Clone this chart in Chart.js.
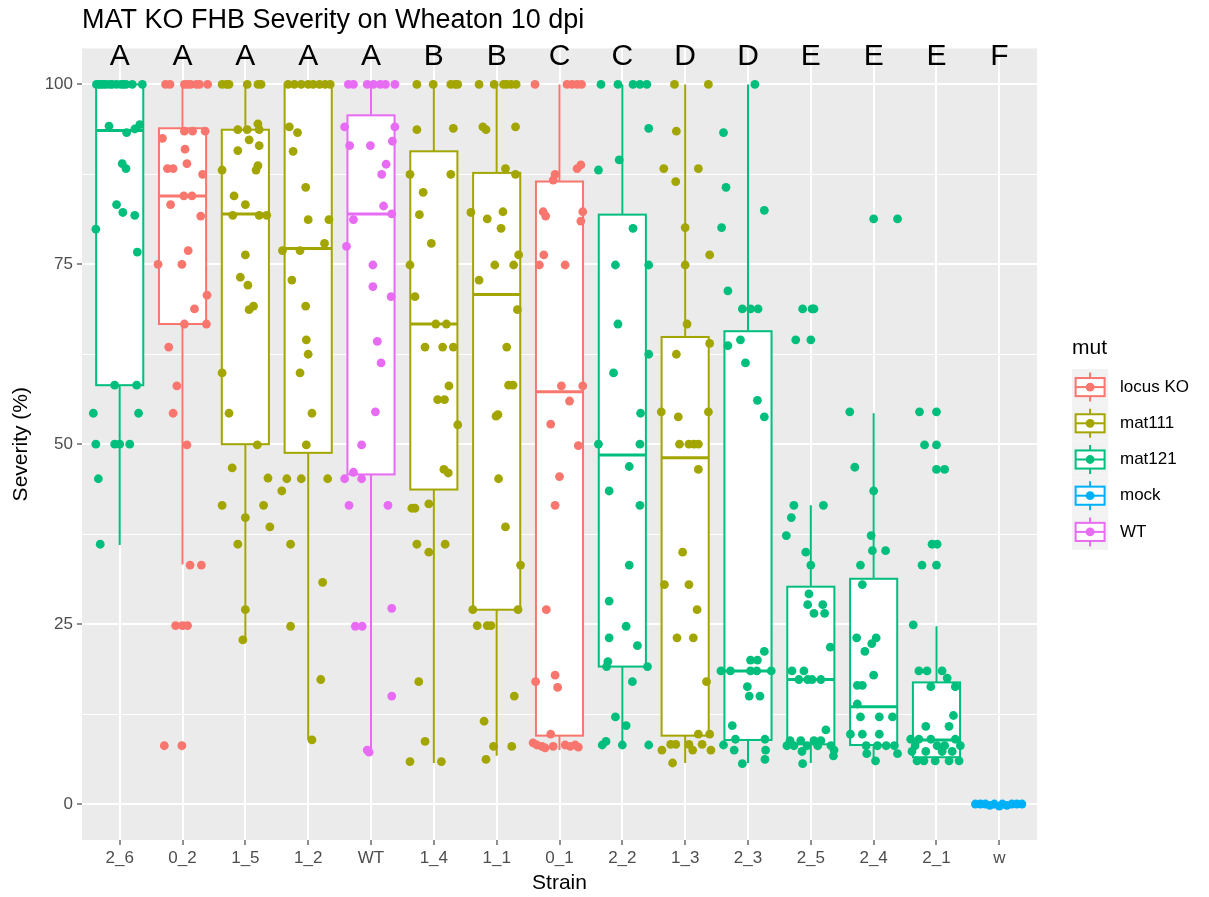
<!DOCTYPE html>
<html>
<head>
<meta charset="utf-8">
<script src="https://cdn.jsdelivr.net/npm/chart.js@4.4.1/dist/chart.umd.min.js"></script>
<style>
  html, body { margin: 0; padding: 0; background: #ffffff; }
  #wrap { width: 1209px; height: 897px; }
</style>
</head>
<body>
<div id="wrap"><canvas id="chart" width="1209" height="897"></canvas></div>
<script>
// ---- data ----
const strains = ['2_6', '0_2', '1_5', '1_2', 'WT', '1_4', '1_1', '0_1', '2_2', '1_3', '2_3', '2_5', '2_4', '2_1', 'w'];
const groups  = ['mat121', 'locus KO', 'mat111', 'mat111', 'WT', 'mat111', 'mat111', 'locus KO',
                 'mat121', 'mat111', 'mat121', 'mat121', 'mat121', 'mat121', 'mock'];
const letters = ['A', 'A', 'A', 'A', 'A', 'B', 'B', 'C', 'C', 'D', 'D', 'E', 'E', 'E', 'F'];

// box statistics per strain
const whiskerHigh = [100, 100, 100, 100, 100, 100, 100, 100, 100, 100, 100, 41.5, 54.3, 24.7, 0];
const q3          = [100, 93.9, 93.7, 100, 95.7, 90.7, 87.7, 86.5, 81.9, 64.9, 65.7, 30.2, 31.3, 16.9, 0];
const medians     = [93.6, 84.5, 82, 77.2, 82, 66.7, 70.8, 57.3, 48.5, 48.1, 18.5, 17.3, 13.5, 8.9, 0];
const q1          = [58.2, 66.7, 50, 48.8, 45.8, 43.7, 27, 9.5, 19.1, 9.5, 8.9, 8.3, 8.2, 6.5, 0];
const whiskerLow  = [36, 33.3, 22.7, 8.9, 7, 5.7, 6.7, 7.5, 8, 5.7, 5.7, 5.7, 6, 5.7, 0];

// jittered observations: [horizontal jitter (category units), severity %]
const p2_6 = [[-0.37,100],[-0.33,100],[-0.3,100],[-0.26,100],[-0.22,100],[-0.16,100],[-0.12,100],[-0.05,100],[0.02,100],[0.06,100],[0.1,100],[0.2,100],[0.36,100],
  [-0.17,94.2],[0.11,93.3],[0.24,93.8],[0.32,94.4],[0.04,89],[0.1,88.3],[-0.05,83.3],[0.05,82.2],[0.24,81.8],[-0.38,79.9],[0.28,76.7],
  [-0.08,58.2],[0.27,58.2],[-0.42,54.3],[0.3,54.3],[-0.38,50],[-0.08,50],[0,50],[0.16,50],[-0.34,45.2],[-0.31,36.1]];
const p0_2 = [[-0.27,100],[-0.2,100],[0.03,100],[0.08,100],[0.13,100],[0.22,100],[0.27,100],[0.4,100],
  [0.03,93.5],[0.16,93.5],[0.36,93.5],[-0.32,92.5],[0.04,91],[0.07,89],[-0.24,88.3],[-0.15,88.3],[0.32,87.5],[0.02,84.5],[0.15,84.5],
  [-0.19,83.3],[0.29,81.7],[0.09,76.9],[-0.39,75],[-0.01,75],[0.39,70.7],[0.19,68.8],[0.03,66.7],[0.38,66.7],[-0.22,63.5],[-0.09,58.1],
  [-0.15,54.3],[0.07,49.9],[0.12,33.2],[0.3,33.2],[-0.11,24.8],[0,24.8],[0.08,24.8],[-0.29,8.1],[-0.01,8.1]];
const p1_5 = [[-0.37,100],[-0.3,100],[-0.26,100],[0.03,100],[0.2,100],[0.25,100],
  [0.2,94.5],[-0.12,93.7],[0.03,93.7],[0.22,93.7],[0.06,92.3],[0.22,91.5],[-0.12,90.8],[0.2,88.7],[-0.37,88.1],[0.17,88.1],[-0.18,84.5],
  [0,83.3],[-0.2,81.8],[0.22,81.8],[0.34,81.8],[0,76.3],[-0.08,73.2],[0.04,72.1],[0.13,69.2],[0.06,68.7],[-0.37,59.9],[-0.26,54.3],
  [0.19,49.9],[-0.21,46.7],[0.36,45.3],[-0.37,41.5],[0.29,41.5],[0,39.8],[0.39,38.5],[-0.12,36.1],[0,27],[-0.04,22.8]];
const p1_2 = [[-0.32,100],[-0.22,100],[-0.11,100],[0,100],[0.08,100],[0.18,100],[0.27,100],[0.35,100],
  [-0.3,94.1],[-0.17,93.3],[-0.24,90.7],[-0.04,85.7],[0,81.2],[0.33,81.2],[0.26,77.9],[-0.41,76.9],[-0.13,76.9],[-0.26,72.8],[-0.04,69.2],
  [-0.03,64.5],[0,62.5],[-0.13,59.9],[0.06,54.3],[-0.03,49.9],[-0.34,45.2],[-0.11,45.2],[0.31,45.2],[-0.42,43.5],[-0.28,36.1],[0.23,30.8],
  [-0.28,24.7],[0.2,17.3],[0.06,8.9]];
const pWT = [[-0.36,100],[-0.28,100],[-0.06,100],[0.04,100],[0.15,100],[0.23,100],[0.38,100],
  [-0.42,94.1],[0.38,94.1],[0.34,92.1],[-0.34,91.5],[-0.01,91.5],[0.24,88.9],[0.17,87.5],[0.2,83.1],[0.33,82],[-0.28,81.2],[-0.39,77.5],
  [0.03,74.9],[0.03,71.9],[0.32,70.5],[0.1,64.3],[0.16,61.3],[0.07,54.5],[-0.15,49.9],[-0.28,46.1],[-0.42,45.2],[-0.15,45.2],[-0.35,41.5],
  [0.27,41.5],[0.33,27.2],[-0.25,24.7],[-0.14,24.7],[0.33,15],[-0.06,7.5],[-0.03,7.2]];
const p1_4 = [[-0.27,100],[-0.01,100],[0.27,100],[0.34,100],[0.38,100],
  [0.31,93.9],[-0.27,93.7],[-0.38,87.5],[0.27,87.5],[-0.17,85],[-0.23,81.9],[-0.04,77.9],[-0.38,74.9],[-0.3,70.5],[0.03,66.7],[0.2,66.7],
  [-0.14,63.5],[0.14,63.5],[0.31,63.5],[0.24,58.1],[0.06,56.2],[0.17,56.2],[0.38,52.7],[0.16,46.5],[0.23,46],[-0.08,41.7],[-0.35,41.1],
  [-0.3,41.1],[-0.27,36.1],[0.18,36.1],[-0.08,35],[-0.24,17],[-0.14,8.7],[-0.38,5.9],[0.12,5.9]];
const p1_1 = [[-0.28,100],[-0.04,100],[0.11,100],[0.16,100],[0.23,100],[0.31,100],
  [-0.22,94.1],[0.3,94.1],[-0.17,93.7],[0.14,88.3],[0.3,87.5],[-0.41,82.2],[0.1,82.3],[-0.15,81.3],[0.07,80],[0.35,76.3],[-0.03,74.9],
  [0.27,74.9],[-0.28,72.8],[0.33,68.7],[0.16,63.5],[0.19,58.2],[0.26,58.2],[0.02,54.1],[-0.01,53.9],[0.03,45.2],[0.14,38.5],[0.38,33.2],
  [-0.38,27],[0.34,27],[-0.31,24.8],[-0.15,24.8],[-0.09,24.8],[0.28,15],[-0.2,11.5],[-0.05,8],[0.24,8],[-0.17,6.2]];
const p0_1 = [[-0.39,100],[0.12,100],[0.2,100],[0.28,100],[0.35,100],
  [0.34,88.8],[0.28,88.3],[-0.07,87.5],[-0.1,86.7],[-0.26,82.3],[0.37,82.3],[-0.22,81.7],[0.34,81],[-0.25,76.3],[-0.32,74.9],[0.09,74.9],
  [0.03,58.1],[0.37,58.1],[0.16,56],[-0.14,52.8],[0.3,49.8],[0,45.5],[-0.07,41.5],[-0.21,27],[-0.07,17.9],[-0.38,17],[-0.03,16.2],
  [-0.14,9.7],[-0.42,8.5],[-0.36,8.2],[-0.28,8],[-0.23,7.8],[-0.1,8],[0.09,8.2],[0.17,8],[0.25,8.2],[0.3,7.9]];
const p2_2 = [[-0.34,100],[-0.07,100],[0.17,100],[0.28,100],[0.39,100],
  [0.42,93.9],[-0.05,89.5],[-0.38,88.1],[0.17,80],[-0.11,74.9],[0.42,74.9],[-0.07,66.7],[0.42,62.5],[-0.14,59.9],[0.29,54.3],[-0.38,50],
  [0.28,50],[0.11,46.9],[-0.21,43.5],[0.28,41.5],[0.11,33.2],[-0.21,28.2],[0.06,24.7],[-0.21,23.1],[0.24,22],[-0.23,19.8],[-0.25,19.1],
  [0.4,19.1],[0.16,17],[-0.11,12.1],[0.06,10.9],[-0.26,8.7],[-0.32,8.2],[0,8.2],[0.42,8.2]];
const p1_3 = [[-0.17,100],[0.37,100],
  [-0.14,93.5],[-0.34,88.3],[0.21,88.3],[-0.15,86.5],[0,80.1],[0.39,76.3],[0,74.9],[0.03,66.7],[0.39,64],[-0.14,62.5],[-0.38,54.5],
  [0.37,54.5],[-0.11,53.8],[-0.09,50],[0.06,50],[0.14,50],[0.21,50],[0.21,46.5],[-0.04,35],[-0.33,30.5],[0.06,30.5],[0.19,27],[-0.13,23.1],
  [0.13,23.1],[0.34,17],[0.21,9.7],[0.39,9.7],[-0.23,8.3],[-0.15,8.3],[0.06,8.3],[0.27,8.3],[-0.37,7.5],[0.12,7.5],[0.41,7.5],[-0.2,5.7]];
const p2_3 = [[0.11,100],[-0.39,93.3],[-0.35,85.7],[0.26,82.5],[-0.42,80.1],[-0.32,71.3],[-0.09,68.8],[0.04,68.8],[0.16,68.8],[-0.12,64.5],
  [-0.32,63.7],[-0.04,61.3],[0.15,56.1],[0.26,53.8],[0.26,21.2],[0.04,20],[0.15,20],[-0.43,18.5],[-0.28,18.5],[0.04,18.5],[0.14,18.5],
  [0.37,18.5],[-0.01,16.3],[0.02,15],[0.19,15],[-0.25,10.9],[-0.2,9],[0.27,9],[-0.39,8.2],[-0.22,7.5],[0.28,7.5],[0.27,6.2],[-0.09,5.6]];
const p2_5 = [[-0.13,68.8],[0.02,68.8],[0.05,68.8],[-0.24,64.5],[0,64.5],[-0.27,41.5],[0.2,41.5],[-0.31,39.8],[-0.39,37.3],[-0.08,35],
  [0,33.2],[-0.03,29.2],[-0.05,27.7],[0.19,27.7],[0.05,26.5],[0.22,26.5],[0.31,21.8],[-0.3,18.5],[-0.11,18.5],[-0.19,17.3],[-0.05,17.3],
  [0.02,17.3],[0.16,17.3],[0.24,10.3],[-0.33,8.8],[-0.16,8.8],[0.05,8.8],[0.16,8.8],[-0.38,8.1],[-0.27,8.1],[-0.06,8.1],[0.11,8.1],
  [0.32,8.1],[0.37,7.5],[-0.14,7.3],[0.36,6.7],[-0.13,5.6]];
const p2_4 = [[0,81.3],[0.38,81.3],[-0.38,54.5],[-0.3,46.8],[0,43.5],[-0.04,37.3],[-0.02,35.2],[0.19,35.2],[-0.21,33.2],[-0.18,30.5],
  [-0.27,23.1],[0.04,23.1],[-0.03,22.3],[-0.14,21.2],[0,17.9],[-0.26,16.5],[-0.18,16.5],[-0.26,13.9],[-0.21,12.1],[0.09,12.1],[0.3,12.1],
  [-0.37,9.7],[-0.18,9.7],[0.09,9.7],[-0.12,8.1],[0.06,8.1],[0.2,8.1],[0.33,8.1],[-0.11,7],[0.38,7],[0.03,6]];
const p2_1 = [[-0.27,54.5],[0,54.5],[-0.19,49.9],[0,49.9],[0,46.5],[0.13,46.5],[-0.07,36.1],[0.01,36.1],[-0.23,33.2],[0,33.2],[-0.37,24.9],
  [-0.28,18.5],[-0.15,18.5],[0.09,18.5],[0.17,17.5],[-0.09,16.3],[0.3,16.3],[0.27,12.3],[-0.17,10.8],[0.2,10.8],[-0.41,9],[-0.28,9],
  [-0.09,9],[0.3,9],[-0.34,8.1],[0.01,8.1],[0.13,8.1],[0.38,8.1],[-0.39,7.3],[-0.17,7.3],[0.09,7.3],[0.25,7.3],[-0.31,6],[-0.2,6],
  [-0.02,6],[0.2,6],[0.36,6]];
const pW = [[-0.38,0],[-0.3,0],[-0.22,0],[-0.15,-0.2],[-0.08,0],[0,-0.3],[0.05,0],[0.12,-0.2],[0.2,0],[0.28,0],[0.36,0]];

const pointSets = [p2_6, p0_2, p1_5, p1_2, pWT, p1_4, p1_1, p0_1, p2_2, p1_3, p2_3, p2_5, p2_4, p2_1, pW];

const legendGroups = ['locus KO', 'mat111', 'mat121', 'mock', 'WT'];
const groupColors = { 'locus KO': '#F8766D', 'mat111': '#A3A500', 'mat121': '#00BF7D', 'mock': '#00B0F6', 'WT': '#E76BF3' };
const yGridValues = [0, 12.5, 25, 37.5, 50, 62.5, 75, 87.5, 100];
const letterLevel = 103.8;

// ---- drawing ----
const FONT = '"Liberation Sans", Arial, Helvetica, sans-serif';
const BOX_WIDTH = 0.75;
const POINT_R = 4.4;

const panelBackground = {
  id: 'panelBackground',
  beforeDraw(chart) {
    const { ctx, chartArea: a } = chart;
    ctx.save();
    ctx.fillStyle = '#FFFFFF';
    ctx.fillRect(0, 0, chart.width, chart.height);
    ctx.fillStyle = '#EBEBEB';
    ctx.fillRect(a.left, a.top, a.right - a.left, a.bottom - a.top);
    ctx.restore();
  }
};

const boxplots = {
  id: 'boxplots',
  beforeDatasetsDraw(chart) {
    const { ctx, chartArea: a, scales: { x, y } } = chart;
    ctx.save();
    ctx.beginPath();
    ctx.rect(a.left, a.top, a.right - a.left, a.bottom - a.top);
    ctx.clip();
    strains.forEach((s, i) => {
      const col = groupColors[groups[i]];
      const cx = x.getPixelForValue(i);
      const hw = x.getPixelForValue(i + BOX_WIDTH / 2) - cx;
      const yHi = y.getPixelForValue(whiskerHigh[i]);
      const yQ3 = y.getPixelForValue(q3[i]);
      const yMed = y.getPixelForValue(medians[i]);
      const yQ1 = y.getPixelForValue(q1[i]);
      const yLo = y.getPixelForValue(whiskerLow[i]);
      ctx.strokeStyle = col;
      ctx.lineWidth = 2;
      ctx.beginPath();
      ctx.moveTo(cx, yHi); ctx.lineTo(cx, yQ3);
      ctx.moveTo(cx, yQ1); ctx.lineTo(cx, yLo);
      ctx.stroke();
      ctx.fillStyle = '#FFFFFF';
      ctx.fillRect(cx - hw, yQ3, 2 * hw, yQ1 - yQ3);
      ctx.strokeRect(cx - hw, yQ3, 2 * hw, yQ1 - yQ3);
      ctx.lineWidth = 3;
      ctx.beginPath();
      ctx.moveTo(cx - hw, yMed); ctx.lineTo(cx + hw, yMed);
      ctx.stroke();
    });
    ctx.restore();
  }
};

const groupLetters = {
  id: 'groupLetters',
  afterDatasetsDraw(chart) {
    const { ctx, scales: { x, y } } = chart;
    ctx.save();
    ctx.fillStyle = '#000000';
    ctx.font = `30px ${FONT}`;
    ctx.textAlign = 'center';
    ctx.textBaseline = 'middle';
    letters.forEach((t, i) => ctx.fillText(t, x.getPixelForValue(i), y.getPixelForValue(letterLevel)));
    ctx.restore();
  }
};

const boxLegend = {
  id: 'boxLegend',
  afterDraw(chart) {
    const { ctx } = chart;
    const left = 1072, top = 369, key = 36.2;
    ctx.save();
    ctx.fillStyle = '#000000';
    ctx.font = `21px ${FONT}`;
    ctx.textAlign = 'left';
    ctx.textBaseline = 'middle';
    ctx.fillText('mut', left, 348);
    legendGroups.forEach((g, k) => {
      const t = top + k * key;
      const col = groupColors[g];
      ctx.fillStyle = '#F2F2F2';
      ctx.fillRect(left, t, key, key);
      const cx = left + key / 2, cy = t + key / 2;
      ctx.strokeStyle = col;
      ctx.lineWidth = 2;
      ctx.beginPath();
      ctx.moveTo(cx, t + key * 0.1); ctx.lineTo(cx, t + key * 0.25);
      ctx.moveTo(cx, t + key * 0.75); ctx.lineTo(cx, t + key * 0.9);
      ctx.stroke();
      ctx.fillStyle = '#FFFFFF';
      ctx.fillRect(left + key * 0.1, t + key * 0.25, key * 0.8, key * 0.5);
      ctx.strokeRect(left + key * 0.1, t + key * 0.25, key * 0.8, key * 0.5);
      ctx.beginPath();
      ctx.moveTo(left + key * 0.1, cy); ctx.lineTo(left + key * 0.9, cy);
      ctx.stroke();
      ctx.fillStyle = col;
      ctx.beginPath();
      ctx.arc(cx, cy, POINT_R, 0, Math.PI * 2);
      ctx.fill();
      ctx.fillStyle = '#000000';
      ctx.font = `17px ${FONT}`;
      ctx.fillText(g, 1120, cy);
    });
    ctx.restore();
  }
};

const datasets = strains.map((s, i) => ({
  label: s,
  data: pointSets[i].map(([dx, v]) => ({ x: i + dx, y: v })),
  backgroundColor: groupColors[groups[i]],
  borderWidth: 0,
  pointRadius: POINT_R,
  pointHoverRadius: POINT_R
}));

const isMajor = v => v % 25 === 0;

new Chart(document.getElementById('chart'), {
  type: 'scatter',
  data: { datasets },
  options: {
    responsive: false,
    animation: false,
    events: [],
    layout: { padding: { left: 0, right: 172, top: 0, bottom: 0 } },
    plugins: {
      legend: { display: false },
      tooltip: { enabled: false },
      title: {
        display: true,
        text: 'MAT KO FHB Severity on Wheaton 10 dpi',
        align: 'start',
        fullSize: false,
        color: '#000000',
        font: { family: FONT, size: 27, weight: 'normal' },
        padding: { top: 4, bottom: 12 }
      }
    },
    scales: {
      x: {
        type: 'linear',
        bounds: 'data',
        min: -0.6,
        max: strains.length - 0.4,
        afterBuildTicks: s => { s.ticks = strains.map((_, i) => ({ value: i })); },
        afterFit: s => { s.height = 57; },
        ticks: {
          autoSkip: false, maxRotation: 0, minRotation: 0,
          callback: v => strains[v] ?? '',
          color: '#4D4D4D',
          font: { family: FONT, size: 17 },
          padding: 3
        },
        grid: { color: '#FFFFFF', lineWidth: 2, tickColor: '#333333', tickLength: 5, tickWidth: 1.1 },
        border: { display: false },
        title: { display: true, text: 'Strain', color: '#000000', font: { family: FONT, size: 21 }, padding: { top: 0, bottom: 1 } }
      },
      y: {
        type: 'linear',
        bounds: 'data',
        min: -5,
        max: 105,
        afterBuildTicks: s => { s.ticks = yGridValues.map(v => ({ value: v })); },
        afterFit: s => { s.width = 82; },
        ticks: {
          callback: v => isMajor(v) ? String(v) : '',
          color: '#4D4D4D',
          font: { family: FONT, size: 17 },
          padding: 4
        },
        grid: {
          color: '#FFFFFF',
          lineWidth: c => (c.tick && isMajor(c.tick.value)) ? 2 : 1,
          tickColor: c => (c.tick && isMajor(c.tick.value)) ? '#333333' : 'rgba(0,0,0,0)',
          tickLength: 5,
          tickWidth: 1.1
        },
        border: { display: false },
        title: { display: true, text: 'Severity (%)', color: '#000000', font: { family: FONT, size: 21 }, padding: { top: 9, bottom: 0 } }
      }
    }
  },
  plugins: [panelBackground, boxplots, groupLetters, boxLegend]
});
</script>
</body>
</html>
